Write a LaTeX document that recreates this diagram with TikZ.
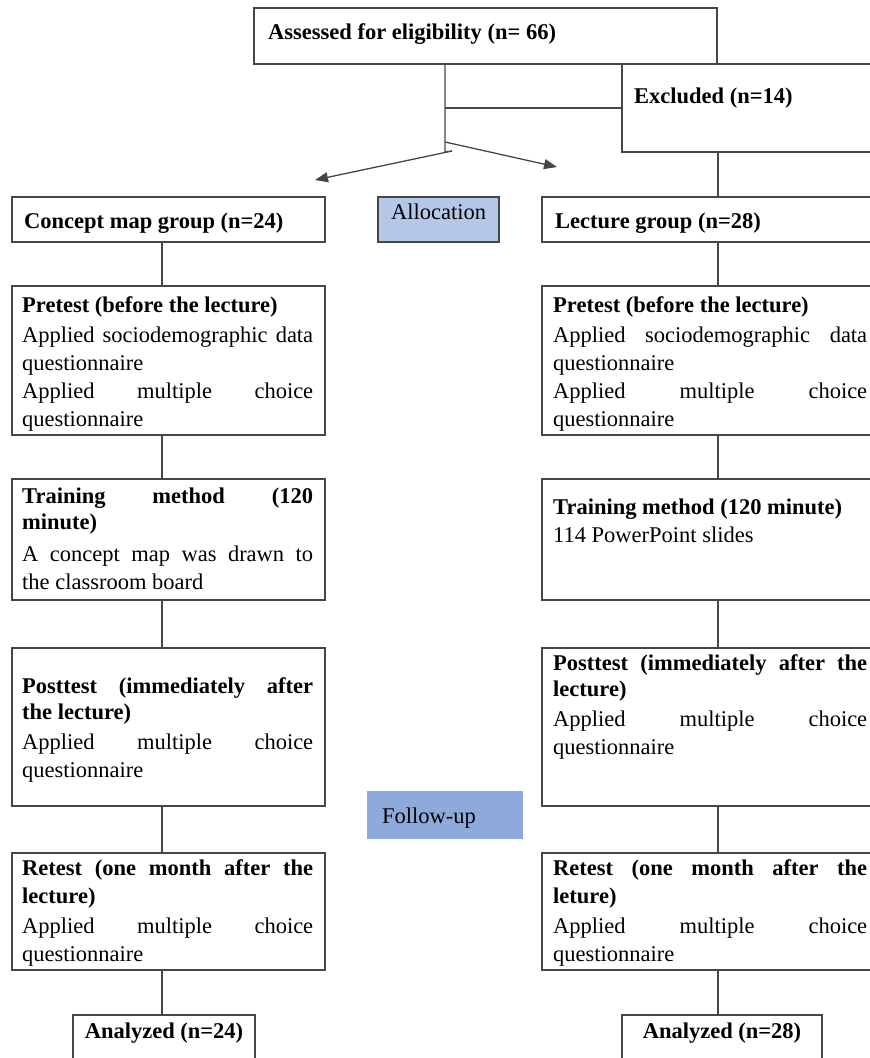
\documentclass[tikz,border=0pt]{standalone}
\usepackage{fontspec}
\setmainfont{Liberation Serif}
\definecolor{AllocBlue}{RGB}{180,199,231}
\definecolor{FollowBlue}{RGB}{142,169,219}
\definecolor{LineGray}{RGB}{70,70,70}
\usetikzlibrary{
    arrows.meta,
    positioning,
    calc,
}

\begin{document}
\begin{tikzpicture}[
        x=1pt, y=-1pt,
        flowbox/.style 2 args={rectangle, draw=LineGray, line width=1.3pt, fill=white, anchor=north west, inner sep=0pt, outer sep=0pt, minimum width=#1, minimum height=#2},
        phasebox/.style 2 args={rectangle, fill=#1, draw=#2, line width=1.3pt, anchor=north west, inner sep=0pt, outer sep=0pt, minimum width=121pt, minimum height=45pt},
        title/.style={anchor=base west, inner sep=0pt, font=\fontsize{22.5}{28}\selectfont\bfseries},
        plain/.style={anchor=base west, inner sep=0pt, font=\fontsize{22.5}{28}\selectfont},
        boxtext/.style={anchor=base west, inner sep=0pt, text width=#1, align=justify, font=\fontsize{22.5}{28}\selectfont},
        link/.style={draw=LineGray, line width=1.3pt},
        split/.style={link, -{Triangle[length=13pt, width=10pt]}},
    ]
        \useasboundingbox (0,0) rectangle (870,1058);
        \clip (0,0) rectangle (870,1058);

        % enrolment
        \node[flowbox={300}{88}] (excl) at (622,64) {};
        \node[flowbox={463}{56}] (assess) at (254,8) {};
        \node[title] (assesst) at ([shift={(14,31)}]assess.north west) {Assessed for eligibility (n= 66)};
        \node[title] (exclt) at ([shift={(12,39)}]excl.north west) {Excluded (n=14)};

        % allocation
        \node[flowbox={313}{45}] (cmap) at (12,197) {};
        \node[flowbox={360}{45}] (lect) at (542,197) {};
        \node[phasebox={AllocBlue}{LineGray}] (alloc) at (378,197) {};
        \node[title] (cmapt) at ([shift={(12,31)}]cmap.north west) {Concept map group (n=24)};
        \node[title] (lectt) at ([shift={(13,31)}]lect.north west) {Lecture group (n=28)};
        \node[plain, anchor=base] (alloct) at ([shift={(0,22)}]alloc.north) {Allocation};

        % concept map column
        \node[flowbox={313}{149}] (preL) at (12,286) {};
        \node[flowbox={313}{121}] (trL) at (12,479) {};
        \node[flowbox={313}{158}] (postL) at (12,648) {};
        \node[flowbox={313}{117}] (retL) at (12,853) {};
        \node[flowbox={182}{70}] (anL) at (73,1015) {};

        \node[boxtext=291pt] (preLt) at ([shift={(10,26)}]preL.north west) {{\bfseries Pretest (before the lecture)\par}\vspace{2pt}
            Applied sociodemographic data\linebreak questionnaire\par
            Applied multiple choice\linebreak questionnaire};
        \node[boxtext=291pt] (trLt) at ([shift={(10,24)}]trL.north west) {{\bfseries\fontsize{22.5}{26}\selectfont Training method (120\linebreak minute)\par}\vspace{4pt}
            A concept map was drawn to\linebreak the classroom board};
        \node[boxtext=291pt] (postLt) at ([shift={(10,45)}]postL.north west) {{\bfseries\fontsize{22.5}{26}\selectfont Posttest (immediately after\linebreak the lecture)\par}\vspace{2pt}
            Applied multiple choice\linebreak questionnaire};
        \node[boxtext=291pt] (retLt) at ([shift={(10,22)}]retL.north west) {{\bfseries Retest (one month after the\linebreak lecture)\par}\vspace{2pt}
            Applied multiple choice\linebreak questionnaire};
        \node[title, anchor=base] (anLt) at ([shift={(0,23)}]anL.north) {Analyzed (n=24)};

        % lecture column
        \node[flowbox={360}{149}] (preR) at (542,286) {};
        \node[flowbox={360}{121}] (trR) at (542,479) {};
        \node[flowbox={360}{158}] (postR) at (542,648) {};
        \node[flowbox={360}{117}] (retR) at (542,853) {};
        \node[flowbox={200}{70}] (anR) at (622,1015) {};

        \node[boxtext=314pt] (preRt) at ([shift={(11,26)}]preR.north west) {{\bfseries Pretest (before the lecture)\par}\vspace{2pt}
            Applied sociodemographic data\linebreak questionnaire\par
            Applied multiple choice\linebreak questionnaire};
        \node[boxtext=314pt] (trRt) at ([shift={(11,35)}]trR.north west) {{\bfseries Training method (120 minute)\par}
            114 PowerPoint slides};
        \node[boxtext=314pt] (postRt) at ([shift={(11,22)}]postR.north west) {{\bfseries\fontsize{22.5}{26}\selectfont Posttest (immediately after the\linebreak lecture)\par}\vspace{2pt}
            Applied multiple choice\linebreak questionnaire};
        \node[boxtext=314pt] (retRt) at ([shift={(11,22)}]retR.north west) {{\bfseries Retest (one month after the\linebreak leture)\par}\vspace{2pt}
            Applied multiple choice\linebreak questionnaire};
        \node[title, anchor=base] (anRt) at ([shift={(0,23)}]anR.north) {Analyzed (n=28)};

        % follow-up
        \node[phasebox={FollowBlue}{FollowBlue}, minimum width=154pt, minimum height=46pt] (follow) at (368,792) {};
        \node[plain] (followt) at ([shift={(14,31)}]follow.north west) {Follow-up};

        % connectors
        \coordinate (midcol) at (445,0);
        \coordinate (lcol) at (162,0);
        \coordinate (rcol) at (718,0);
        \coordinate (fork) at (445,152);
        \coordinate (forkL) at (452,151);
        \coordinate (forkR) at (445,142);
        \coordinate (tipL) at (315,180);
        \coordinate (tipR) at (557,167);
        \draw[link] (assess.south -| midcol) -- (fork) -- (forkL);
        \draw[link] (fork |- excl.west) -- (excl.west);
        \draw[split] (forkL) -- (tipL);
        \draw[split] (forkR) -- (tipR);
        \draw[link] (excl.south -| rcol) -- (lect.north -| rcol);

        \draw[link] (cmap.south -| lcol) -- (preL.north -| lcol);
        \draw[link] (preL.south -| lcol) -- (trL.north -| lcol);
        \draw[link] (trL.south -| lcol) -- (postL.north -| lcol);
        \draw[link] (postL.south -| lcol) -- (retL.north -| lcol);
        \draw[link] (retL.south -| lcol) -- (anL.north -| lcol);

        \draw[link] (lect.south -| rcol) -- (preR.north -| rcol);
        \draw[link] (preR.south -| rcol) -- (trR.north -| rcol);
        \draw[link] (trR.south -| rcol) -- (postR.north -| rcol);
        \draw[link] (postR.south -| rcol) -- (retR.north -| rcol);
        \draw[link] (retR.south -| rcol) -- (anR.north -| rcol);
    \end{tikzpicture}
\end{document}
